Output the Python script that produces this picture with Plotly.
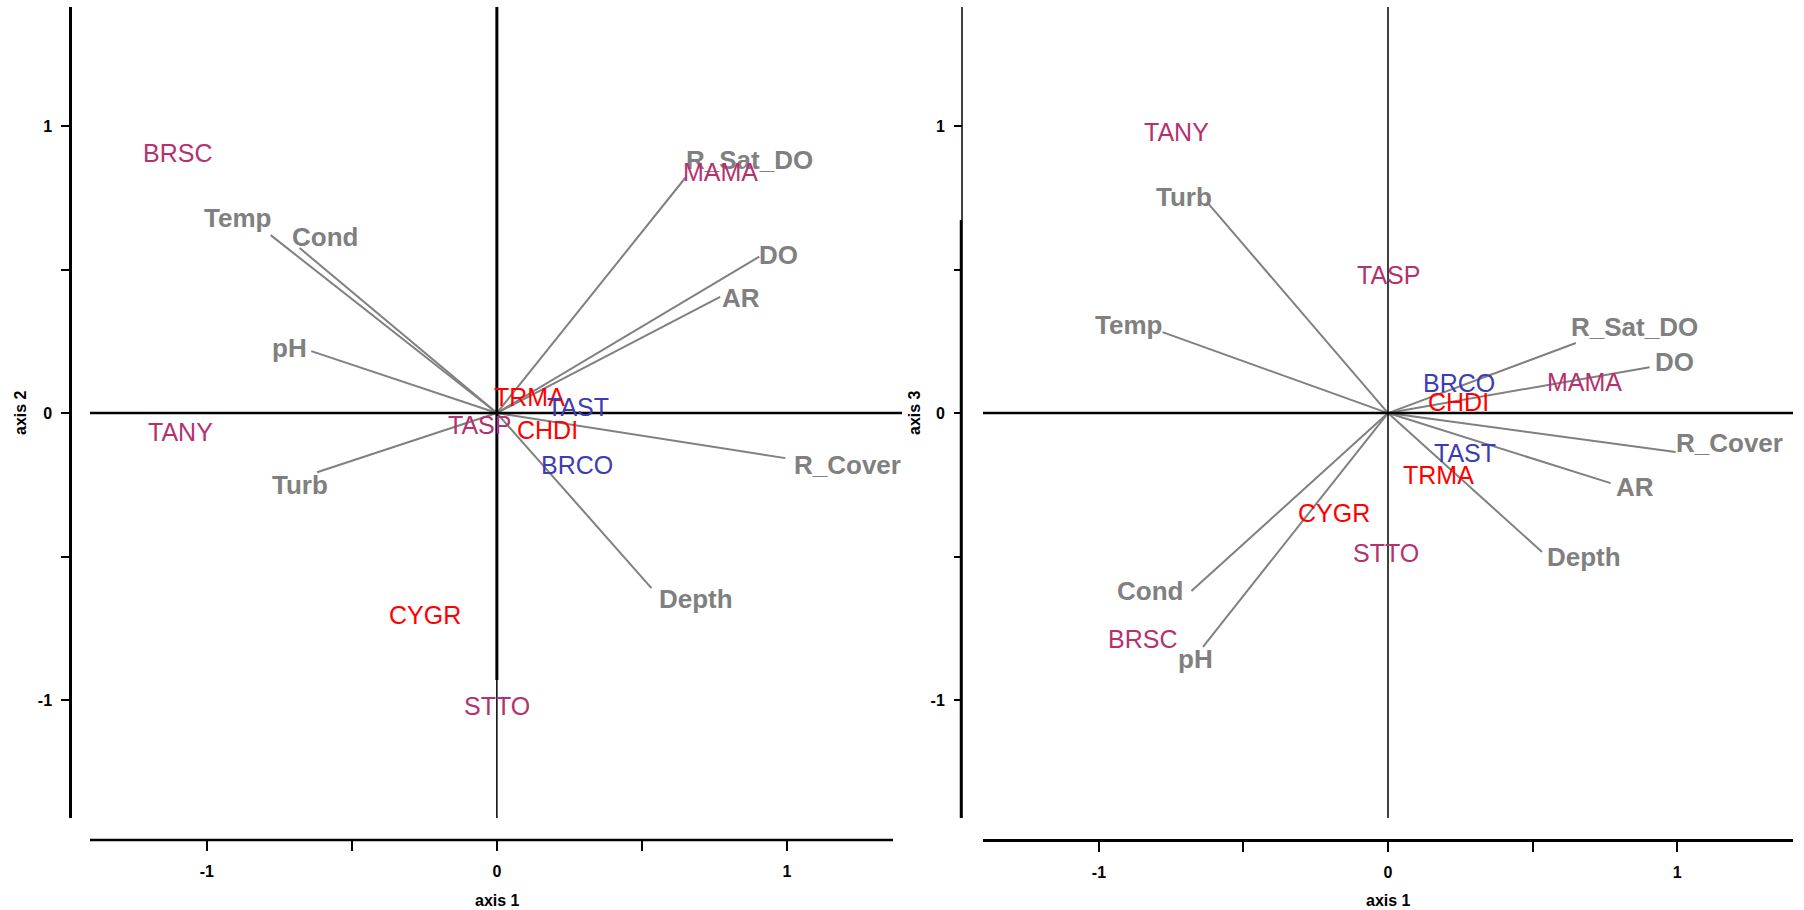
import plotly.graph_objects as go

# ---------------- data ----------------
variables = ["Temp", "Cond", "pH", "Turb", "R_Sat_DO", "DO", "AR", "R_Cover", "Depth"]
var_axis1 = [-0.78, -0.68, -0.64, -0.62, 0.65, 0.905, 0.77, 0.995, 0.533]
var_axis2 = [0.62, 0.575, 0.216, -0.206, 0.82, 0.545, 0.405, -0.157, -0.61]
var_axis3 = [0.282, -0.62, -0.815, 0.728, 0.244, 0.16, -0.244, -0.136, -0.484]

species = ["BRSC", "TANY", "MAMA", "TRMA", "TAST", "TASP", "CHDI", "BRCO", "CYGR", "STTO"]
sp_group = ["a", "a", "a", "b", "c", "a", "b", "c", "b", "a"]
# left panel (axis 1 vs axis 2)
sp_left_axis1 = [-1.10, -1.09, 0.77, 0.114, 0.28, -0.06, 0.176, 0.276, -0.248, 0.0]
sp_left_axis2 = [0.906, -0.066, 0.84, 0.056, 0.02, -0.042, -0.06, -0.18, -0.704, -1.02]
# right panel (axis 1 vs axis 3)
sp_right_axis1 = [-0.85, -0.73, 0.68, 0.173, 0.266, 0.0, 0.245, 0.245, -0.187, -0.007]
sp_right_axis3 = [-0.787, 0.98, 0.11, -0.216, -0.14, 0.48, 0.04, 0.105, -0.348, -0.488]

tick_vals = [-1, -0.5, 0, 0.5, 1]
tick_text = ["-1", "", "0", "", "1"]

# ---------------- styles ----------------
W, H = 1804, 910
group_colors = {"a": "#B4326E", "b": "#FF0000", "c": "#3C3CB4"}
gray = "#808080"
FONT = "Liberation Sans, Arial, sans-serif"

# label offsets in pixels (dx, dy up) relative to vector tips
off_left = {"Temp": (-33, 17), "Cond": (25, 11), "pH": (-22, 3), "Turb": (-17, -13),
            "R_Sat_DO": (64, 18), "DO": (19, 2), "AR": (21, -1), "R_Cover": (62, -7),
            "Depth": (45, -11)}
off_right = {"Temp": (-34, 7), "Cond": (-41, 0), "pH": (-7, -12), "Turb": (-25, 7),
             "R_Sat_DO": (59, 16), "DO": (25, 5), "AR": (24, -4), "R_Cover": (54, 9),
             "Depth": (42, -5)}


def fx(px):
    return px / W


def fy(py):
    return 1 - py / H


fig = go.Figure()


def add_vectors(xs, ys, xa, ya):
    lx, ly = [], []
    for x, y in zip(xs, ys):
        lx += [0, x, None]
        ly += [0, y, None]
    fig.add_trace(go.Scatter(x=lx, y=ly, mode="lines", xaxis=xa, yaxis=ya,
                             line=dict(color=gray, width=2), hoverinfo="skip",
                             showlegend=False))


add_vectors(var_axis1, var_axis2, "x", "y")
add_vectors(var_axis1, var_axis3, "x2", "y2")

annotations = []


def add_var_labels(xs, ys, xref, yref, offs):
    for name, x, y in zip(variables, xs, ys):
        dx, dy = offs[name]
        annotations.append(dict(x=x, y=y, xref=xref, yref=yref, text=name, showarrow=False,
                                xshift=dx, yshift=dy, xanchor="center", yanchor="middle",
                                font=dict(family=FONT, size=26, color=gray, weight="bold")))


def add_sp_labels(xs, ys, xref, yref):
    for name, g, x, y in zip(species, sp_group, xs, ys):
        annotations.append(dict(x=x, y=y, xref=xref, yref=yref, text=name, showarrow=False,
                                xanchor="center", yanchor="middle",
                                font=dict(family=FONT, size=25, color=group_colors[g])))


add_var_labels(var_axis1, var_axis2, "x", "y", off_left)
add_var_labels(var_axis1, var_axis3, "x2", "y2", off_right)
add_sp_labels(sp_left_axis1, sp_left_axis2, "x", "y")
add_sp_labels(sp_right_axis1, sp_right_axis3, "x2", "y2")

title_font = dict(family=FONT, size=16, color="black", weight="bold")
annotations += [
    dict(x=fx(497), y=fy(900), xref="paper", yref="paper", text="axis 1", showarrow=False,
         xanchor="center", yanchor="middle", font=title_font),
    dict(x=fx(1388), y=fy(900), xref="paper", yref="paper", text="axis 1", showarrow=False,
         xanchor="center", yanchor="middle", font=title_font),
    dict(x=fx(21), y=fy(413), xref="paper", yref="paper", text="axis 2", showarrow=False,
         textangle=-90, xanchor="center", yanchor="middle", font=title_font),
    dict(x=fx(915), y=fy(413), xref="paper", yref="paper", text="axis 3", showarrow=False,
         textangle=-90, xanchor="center", yanchor="middle", font=title_font),
]

yr = [-1.411, 1.415]
xr_left = [-1.403, 1.397]
xr_right = [-1.401, 1.401]

shapes = [
    # left crosshair
    dict(type="line", xref="x", yref="y", x0=xr_left[0], x1=xr_left[1], y0=0, y1=0,
         line=dict(color="black", width=2.5)),
    dict(type="line", xref="x", yref="y", x0=0, x1=0, y0=-0.93, y1=yr[1],
         line=dict(color="black", width=3)),
    dict(type="line", xref="x", yref="y", x0=0, x1=0, y0=yr[0], y1=-0.93,
         line=dict(color="black", width=1.5)),
    # right crosshair
    dict(type="line", xref="x2", yref="y2", x0=xr_right[0], x1=xr_right[1], y0=0, y1=0,
         line=dict(color="black", width=2.5)),
    dict(type="line", xref="x2", yref="y2", x0=0, x1=0, y0=yr[0], y1=yr[1],
         line=dict(color="black", width=1.5)),
    # left x axis line
    dict(type="line", xref="paper", yref="paper", x0=fx(90), x1=fx(893), y0=fy(840), y1=fy(840),
         line=dict(color="black", width=2.5)),
    # right y axis line
    dict(type="line", xref="paper", yref="paper", x0=fx(962), x1=fx(962), y0=fy(7), y1=fy(818),
         line=dict(color="black", width=1.5)),
    dict(type="line", xref="paper", yref="paper", x0=fx(961), x1=fx(961), y0=fy(220), y1=fy(818),
         line=dict(color="black", width=2.5)),
]

tickfont = dict(family=FONT, size=16, color="black", weight="bold")
common_axis = dict(showgrid=False, zeroline=False, ticks="outside", tickvals=tick_vals,
                   ticktext=tick_text, tickfont=tickfont, tickcolor="black", tickwidth=2,
                   fixedrange=True)

fig.update_layout(
    width=W, height=H, margin=dict(l=0, r=0, t=0, b=0),
    paper_bgcolor="white", plot_bgcolor="white", showlegend=False,
    xaxis=dict(domain=[fx(90), fx(902)], range=xr_left, anchor="free", position=fy(840),
               showline=False, ticklen=10, ticklabelstandoff=7, **common_axis),
    yaxis=dict(domain=[fy(818), fy(7)], range=yr, anchor="free", position=fx(70),
               showline=True, linecolor="black", linewidth=2.5, ticklen=8,
               ticklabelstandoff=6, **common_axis),
    xaxis2=dict(domain=[fx(983), fx(1793)], range=xr_right, anchor="free", position=fy(840),
                showline=True, linecolor="black", linewidth=2.5, ticklen=10,
                ticklabelstandoff=7, **common_axis),
    yaxis2=dict(domain=[fy(818), fy(7)], range=yr, anchor="free", position=fx(962),
                showline=False, ticklen=8, ticklabelstandoff=6, **common_axis),
    annotations=annotations, shapes=shapes,
)

fig.write_html("out.html", config={"displayModeBar": False},
               post_script="document.body.style.margin='0';document.body.style.padding='0';")
